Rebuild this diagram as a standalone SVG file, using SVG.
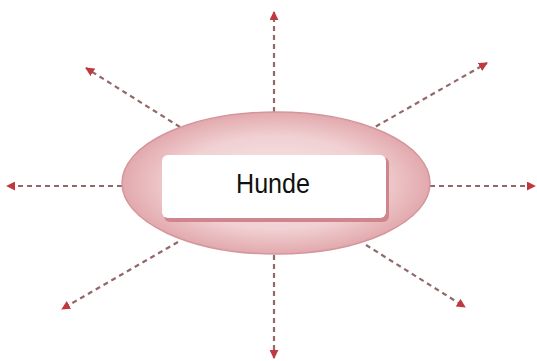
<svg xmlns="http://www.w3.org/2000/svg" width="537" height="361" viewBox="0 0 537 361">
<defs>
<radialGradient id="eg" cx="0.5" cy="0.5" r="0.5">
<stop offset="0" stop-color="#f9e8e9"/>
<stop offset="0.65" stop-color="#f1d1d3"/>
<stop offset="1" stop-color="#e2a9ad"/>
</radialGradient>
<marker id="ah" viewBox="0 0 10 10" refX="9" refY="5" markerWidth="9" markerHeight="9" markerUnits="userSpaceOnUse" orient="auto">
<path d="M0,0 L10,5 L0,10 Z" fill="#c0393f"/>
</marker>
</defs>
<style>
.c{stroke:#94676a;stroke-width:2.2;stroke-dasharray:5 4;fill:none;marker-end:url(#ah)}
.t{font-family:"Liberation Sans",Arial,sans-serif;font-size:28px;fill:#111}
</style>
<rect width="537" height="361" fill="#ffffff"/>
<g id="connectors">
<line class="c" x1="274" y1="112" x2="274" y2="12"/>
<line class="c" x1="274" y1="255" x2="274" y2="358"/>
<line class="c" x1="122" y1="186" x2="7" y2="186"/>
<line class="c" x1="430" y1="186" x2="535" y2="186"/>
<line class="c" x1="180" y1="127" x2="86" y2="68"/>
<line class="c" x1="368" y1="131" x2="487" y2="63"/>
<line class="c" x1="178" y1="242" x2="62" y2="309"/>
<line class="c" x1="366" y1="245" x2="465" y2="307"/>
</g>
<g id="hunde">
<ellipse cx="276" cy="183" rx="154" ry="71" fill="url(#eg)" stroke="#d3969b" stroke-width="1.5"/>
<rect x="164" y="157" width="225" height="65" rx="6" fill="#cf858b"/>
<rect x="162" y="155" width="224" height="63" rx="6" fill="#ffffff"/>
<text class="t" x="273" y="193" text-anchor="middle" textLength="74" lengthAdjust="spacingAndGlyphs">Hunde</text>
</g>
</svg>
